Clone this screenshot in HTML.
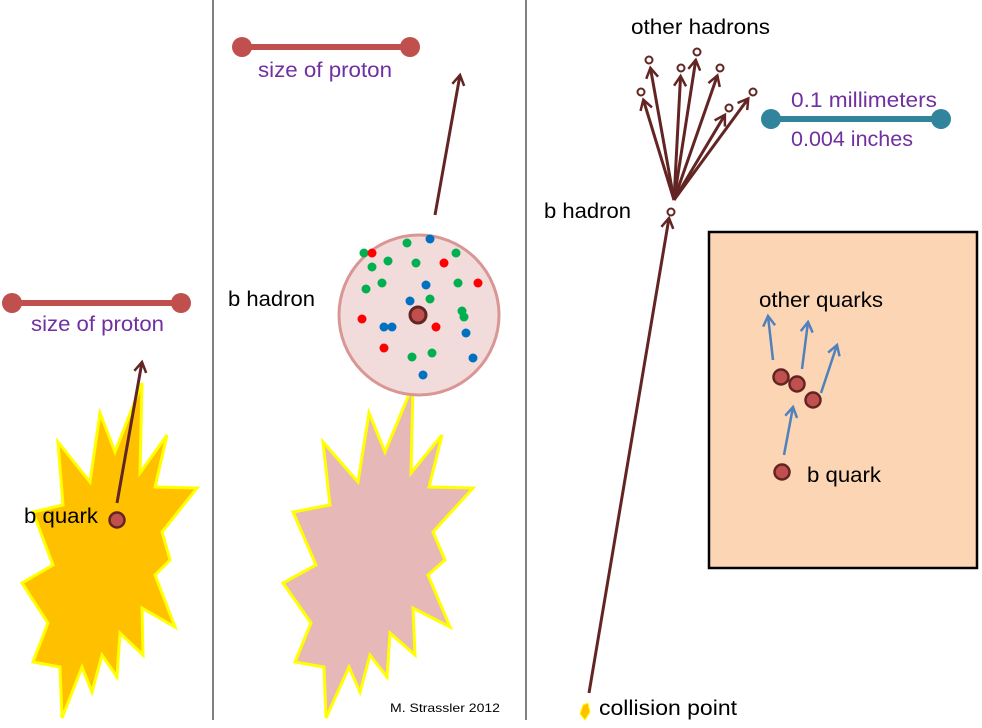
<!DOCTYPE html>
<html><head><meta charset="utf-8"><style>
html,body{margin:0;padding:0;background:#fff;}
svg{display:block;font-family:"Liberation Sans",sans-serif;}
</style></head><body>
<svg id="s" width="982" height="728" viewBox="0 0 982 728">
<defs>
<marker id="ah" markerWidth="14" markerHeight="14" refX="11" refY="7" orient="auto" markerUnits="userSpaceOnUse"><path d="M1,1 L11,7 L1,13" fill="none" stroke="#632523" stroke-width="2.5"/></marker>
<marker id="ab" markerWidth="14" markerHeight="14" refX="11" refY="7" orient="auto" markerUnits="userSpaceOnUse"><path d="M1,1 L11,7 L1,13" fill="none" stroke="#4f81bd" stroke-width="2.5"/></marker>
</defs>
<line x1="213" y1="0" x2="213" y2="720" stroke="#000" stroke-width="1"/>
<line x1="526" y1="0" x2="526" y2="720" stroke="#000" stroke-width="1"/>

<g>
<line x1="12" y1="303" x2="181" y2="303" stroke="#c0504d" stroke-width="6"/>
<circle cx="12" cy="303" r="10" fill="#c0504d"/><circle cx="181" cy="303" r="10" fill="#c0504d"/>
</g>
<text x="31" y="331" font-size="21" fill="#7030a0" textLength="133" lengthAdjust="spacingAndGlyphs">size of proton</text>
<polygon fill="#ffc000" stroke="#ffff00" stroke-width="3" points="142,383 140,473 167,435 155,487 197,488 162,532 170,560 155,575 175,627 142,608 143,655 120,633 117,677 102,655 92,692 82,667 62,718 60,667 33,662 48,623 22,583 53,565 33,512 63,505 58,442 90,482 100,413 115,452"/>
<line x1="117" y1="503" x2="142" y2="362" stroke="#632523" stroke-width="3" marker-end="url(#ah)"/>
<circle cx="117" cy="520" r="7.5" fill="#c0504d" stroke="#632523" stroke-width="2.5"/>
<text x="24" y="523" font-size="21" fill="#000" textLength="74" lengthAdjust="spacingAndGlyphs">b quark</text>

<g>
<line x1="242" y1="47" x2="410" y2="47" stroke="#c0504d" stroke-width="6"/>
<circle cx="242" cy="47" r="10" fill="#c0504d"/><circle cx="410" cy="47" r="10" fill="#c0504d"/>
</g>
<text x="258" y="77" font-size="21" fill="#7030a0" textLength="134" lengthAdjust="spacingAndGlyphs">size of proton</text>
<polygon fill="#e6b9b8" stroke="#ffff00" stroke-width="3" points="413,385 411,473 442,435 429,487 473,488 433,532 445,560 428,575 450,627 413,608 415,655 390,633 387,677 370,655 360,692 349,667 326,718 324,667 295,662 311,623 283,583 316,565 293,512 330,505 323,442 358,482 369,413 385,452"/>
<line x1="435" y1="215" x2="460" y2="75" stroke="#632523" stroke-width="3" marker-end="url(#ah)"/>
<circle cx="419" cy="315" r="80" fill="#f2dcdb" stroke="#d99694" stroke-width="3"/>
<g id="dots"></g>
<circle cx="418" cy="315" r="8" fill="#c0504d" stroke="#632523" stroke-width="3"/>
<text x="228" y="306" font-size="21" fill="#000" textLength="87" lengthAdjust="spacingAndGlyphs">b hadron</text>
<text x="390" y="712" font-size="12" fill="#000" textLength="110" lengthAdjust="spacingAndGlyphs">M. Strassler 2012</text>

<text x="631" y="34" font-size="21" fill="#000" textLength="139" lengthAdjust="spacingAndGlyphs">other hadrons</text>
<g>
<line x1="771" y1="119" x2="941" y2="119" stroke="#31849b" stroke-width="6"/>
<circle cx="771" cy="119" r="10" fill="#31849b"/><circle cx="941" cy="119" r="10" fill="#31849b"/>
</g>
<text x="791" y="107" font-size="21" fill="#7030a0" textLength="146" lengthAdjust="spacingAndGlyphs">0.1 millimeters</text>
<text x="791" y="146" font-size="21" fill="#7030a0" textLength="122" lengthAdjust="spacingAndGlyphs">0.004 inches</text>
<g id="hadrons"></g>
<text x="544" y="218" font-size="21" fill="#000" textLength="87" lengthAdjust="spacingAndGlyphs">b hadron</text>
<line x1="589" y1="693" x2="669" y2="218" stroke="#632523" stroke-width="3" marker-end="url(#ah)"/>
<circle cx="671" cy="212" r="3.5" fill="#fff" stroke="#632523" stroke-width="2"/>
<path d="M583,705 L588,703 L590,712 L585,720 L580,714 Z" fill="#ffc000" stroke="#ffff00" stroke-width="1"/>
<text x="599" y="715" font-size="21" fill="#000" textLength="138" lengthAdjust="spacingAndGlyphs">collision point</text>

<rect x="709" y="232" width="268" height="336" fill="#fcd5b4" stroke="#000" stroke-width="2.5"/>
<text x="759" y="307" font-size="21" fill="#000" textLength="124" lengthAdjust="spacingAndGlyphs">other quarks</text>
<g stroke="#4f81bd" stroke-width="2.5" marker-end="url(#ab)">
<line x1="773" y1="360" x2="768" y2="316"/>
<line x1="802" y1="369" x2="808" y2="322"/>
<line x1="821" y1="393" x2="837" y2="345"/>
<line x1="784" y1="455" x2="793" y2="407"/>
</g>
<g fill="#c0504d" stroke="#632523" stroke-width="2.5">
<circle cx="781" cy="377" r="7.5"/><circle cx="797" cy="384" r="7.5"/><circle cx="813" cy="400" r="7.5"/><circle cx="782" cy="472" r="7.5"/>
</g>
<text x="807" y="482" font-size="21" fill="#000" textLength="74" lengthAdjust="spacingAndGlyphs">b quark</text>
</svg>
<script>
const dotX=[407,364,388,372,416,456,382,366,458,430,462,464,412,432,372,444,478,362,436,384,430,426,410,384,392,466,473,423];
const dotY=[243,253,261,267,263,253,283,289,283,299,311,317,357,353,253,263,283,319,327,348,239,285,301,327,327,333,358,375];
const dotColor=["g","g","g","g","g","g","g","g","g","g","g","g","g","g","r","r","r","r","r","r","b","b","b","b","b","b","b","b"];
const hadronX=[649,641,681,697,720,729,753];
const hadronY=[60,92,68,52,68,108,92];
const NS="http://www.w3.org/2000/svg";
const cmap={g:"#00b050",r:"#ff0000",b:"#0070c0"};
const dg=document.getElementById("dots");
for(let i=0;i<dotX.length;i++){
  const c=document.createElementNS(NS,"circle");
  c.setAttribute("cx",dotX[i]);c.setAttribute("cy",dotY[i]);c.setAttribute("r",4.5);
  c.setAttribute("fill",cmap[dotColor[i]]);
  
  
  dg.appendChild(c);
}
const hg=document.getElementById("hadrons");
const vx=674,vy=200;
for(let i=0;i<hadronX.length;i++){
  const dx=hadronX[i]-vx,dy=hadronY[i]-vy,L=Math.hypot(dx,dy);
  const l=document.createElementNS(NS,"line");
  l.setAttribute("x1",vx);l.setAttribute("y1",vy);
  l.setAttribute("x2",vx+dx*(L-8)/L);l.setAttribute("y2",vy+dy*(L-8)/L);
  l.setAttribute("stroke","#632523");l.setAttribute("stroke-width","3");
  l.setAttribute("marker-end","url(#ah)");
  
  
  hg.appendChild(l);
  const c=document.createElementNS(NS,"circle");
  c.setAttribute("cx",hadronX[i]);c.setAttribute("cy",hadronY[i]);c.setAttribute("r",3.5);
  c.setAttribute("fill","#fff");c.setAttribute("stroke","#632523");c.setAttribute("stroke-width","2");
  
  
  hg.appendChild(c);
}
</script>
</body></html>
